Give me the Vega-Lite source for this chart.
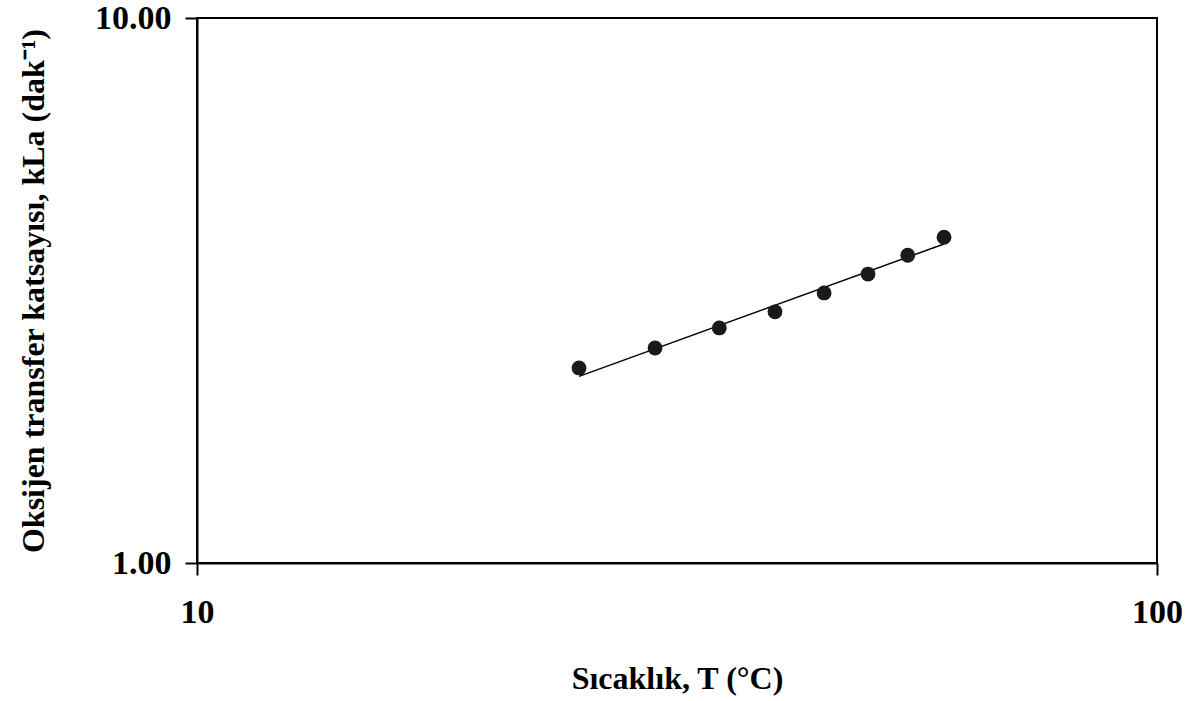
{
  "$schema": "https://vega.github.io/schema/vega-lite/v6.json",
  "width": 960,
  "height": 545,
  "autosize": "none",
  "padding": {"left": 197, "top": 18, "right": 29, "bottom": 138},
  "background": "white",
  "config": {
    "view": {"stroke": "black", "strokeWidth": 2},
    "font": "Liberation Serif",
    "axis": {
      "grid": false,
      "domainColor": "black",
      "domainWidth": 2,
      "tickColor": "black",
      "tickWidth": 2,
      "tickSize": 12,
      "labelFont": "Liberation Serif",
      "labelFontWeight": "bold",
      "labelFontSize": 34,
      "labelColor": "black",
      "titleFont": "Liberation Serif",
      "titleFontWeight": "bold",
      "titleFontSize": 32,
      "titleColor": "black"
    }
  },
  "datasets": {
    "obs": [
      {"T": 25, "kla": 2.28},
      {"T": 30, "kla": 2.48},
      {"T": 35, "kla": 2.70},
      {"T": 40, "kla": 2.89},
      {"T": 45, "kla": 3.13},
      {"T": 50, "kla": 3.39},
      {"T": 55, "kla": 3.67},
      {"T": 60, "kla": 3.96}
    ],
    "fit": [
      {"T": 25, "kla": 2.20},
      {"T": 60, "kla": 3.85}
    ]
  },
  "layer": [
    {
      "data": {"name": "fit"},
      "mark": {"type": "line", "color": "black", "strokeWidth": 1.5},
      "encoding": {
        "x": {"field": "T", "type": "quantitative",
          "scale": {"type": "log", "domain": [10, 100]},
          "axis": {"values": [10, 100], "format": "d", "labelPadding": 20, "title": "Sıcaklık, T (°C)", "titlePadding": 34, "labelFlush": false}},
        "y": {"field": "kla", "type": "quantitative",
          "scale": {"type": "log", "domain": [1, 10]},
          "axis": {"values": [1, 10], "format": ".2f", "labelPadding": 14, "title": "Oksijen transfer katsayısı, kLa (dak⁻¹)", "titlePadding": 44, "labelFlush": false}}
      }
    },
    {
      "data": {"name": "obs"},
      "mark": {"type": "point", "shape": "circle", "filled": true, "color": "#1a1a1a", "size": 220, "opacity": 1},
      "encoding": {
        "x": {"field": "T", "type": "quantitative"},
        "y": {"field": "kla", "type": "quantitative"}
      }
    }
  ]
}
